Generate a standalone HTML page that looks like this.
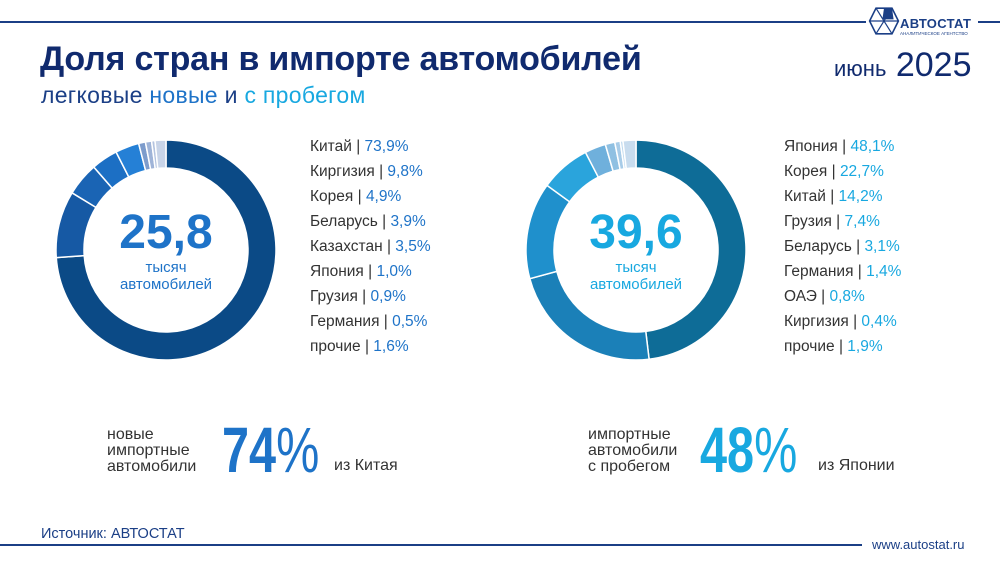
<!DOCTYPE html>
<html><head><meta charset="utf-8"><style>
body{margin:0;width:1000px;height:562px;background:#fff;position:relative;overflow:hidden;font-family:"Liberation Sans","DejaVu Sans",sans-serif}
.a{position:absolute;white-space:nowrap}
.leg{position:absolute;font-size:15.5px;color:#333;line-height:25px}
.leg b{font-weight:normal}
.l1 b{color:#1e73c8}.l2 b{color:#18a8e0}
.sm{font-size:16px;color:#333;line-height:16px}
.big{font-size:64px;line-height:64px;transform:scaleX(0.76);transform-origin:0 0}
</style></head><body>
<div class="a" style="left:0;top:21px;width:866px;height:2px;background:#1b3f86"></div>
<div class="a" style="left:978px;top:21px;width:22px;height:2px;background:#1b3f86"></div>
<svg class="a" style="left:868px;top:6px" width="32" height="30" viewBox="0 0 40 36">
<polygon points="10,2 30,2 38,18 30,34 10,34 2,18" fill="none" stroke="#1b3f86" stroke-width="2"/>
<line x1="2" y1="18" x2="38" y2="18" stroke="#1b3f86" stroke-width="1.5"/><line x1="10" y1="2" x2="30" y2="34" stroke="#1b3f86" stroke-width="1.5"/><line x1="30" y1="2" x2="10" y2="34" stroke="#1b3f86" stroke-width="1.5"/>
<polygon points="20,2 30,2 32,16 18,16" fill="#1b3f86"/></svg>
<div class="a" style="left:900px;top:16px;font-size:13px;font-weight:bold;color:#1b3f86;letter-spacing:0.3px">АВТОСТАТ</div>
<div class="a" style="left:900px;top:31px;font-size:4.5px;color:#1b3f86">АНАЛИТИЧЕСКОЕ АГЕНТСТВО</div>
<div class="a" style="left:834px;top:46px;font-size:34px;color:#102a6e"><span style="font-size:22px">июнь</span> 2025</div>
<div class="a" style="left:40px;top:40px;font-size:34px;font-weight:bold;color:#102a6e;letter-spacing:-0.2px">Доля стран в импорте автомобилей</div>
<div class="a" style="left:41px;top:82px;font-size:23px;color:#1b3f86;letter-spacing:0.3px">легковые <span style="color:#1e73c8">новые</span> и <span style="color:#18a8e0">с пробегом</span></div>
<svg class="a" style="left:0;top:0" width="1000" height="420" id="sv"></svg>
<div class="a" style="left:116px;top:205px;width:100px;text-align:center;font-size:48px;font-weight:bold;color:#1e73c8">25,8</div>
<div class="a" style="left:96px;top:259px;width:140px;text-align:center;font-size:15px;line-height:17px;color:#1e73c8">тысяч<br>автомобилей</div>
<div class="a" style="left:586px;top:205px;width:100px;text-align:center;font-size:48px;font-weight:bold;color:#18a8e0">39,6</div>
<div class="a" style="left:566px;top:259px;width:140px;text-align:center;font-size:15px;line-height:17px;color:#18a8e0">тысяч<br>автомобилей</div>
<div class="leg l1" style="left:310px;top:134px">Китай | <b>73,9%</b><br>Киргизия | <b>9,8%</b><br>Корея | <b>4,9%</b><br>Беларусь | <b>3,9%</b><br>Казахстан | <b>3,5%</b><br>Япония | <b>1,0%</b><br>Грузия | <b>0,9%</b><br>Германия | <b>0,5%</b><br>прочие | <b>1,6%</b></div>
<div class="leg l2" style="left:784px;top:134px">Япония | <b>48,1%</b><br>Корея | <b>22,7%</b><br>Китай | <b>14,2%</b><br>Грузия | <b>7,4%</b><br>Беларусь | <b>3,1%</b><br>Германия | <b>1,4%</b><br>ОАЭ | <b>0,8%</b><br>Киргизия | <b>0,4%</b><br>прочие | <b>1,9%</b></div>
<div class="a sm" style="left:107px;top:427px">новые<br>импортные<br>автомобили</div>
<div class="a big" style="left:222px;top:418px;color:#1e73c8"><b>74</b>%</div>
<div class="a sm" style="left:334px;top:458px">из Китая</div>
<div class="a sm" style="left:588px;top:427px">импортные<br>автомобили<br>с пробегом</div>
<div class="a big" style="left:700px;top:418px;color:#18a8e0"><b>48</b>%</div>
<div class="a sm" style="left:818px;top:458px">из Японии</div>
<div class="a" style="left:41px;top:526px;font-size:14.5px;color:#1b3f86">Источник: АВТОСТАТ</div>
<div class="a" style="left:0;top:544px;width:862px;height:2px;background:#1b3f86"></div>
<div class="a" style="left:872px;top:537px;font-size:13px;color:#1b3f86">www.autostat.ru</div>
<script>
function donut(cx,cy,R,r,vals,cols){var s='',a=-Math.PI/2,t=vals.reduce((x,y)=>x+y,0);
vals.forEach(function(v,i){var b=a+v/t*2*Math.PI,l=(b-a)>Math.PI?1:0;
function p(rr,ang){return (cx+rr*Math.cos(ang)).toFixed(2)+','+(cy+rr*Math.sin(ang)).toFixed(2)}
s+='<path d="M'+p(R,a)+'A'+R+','+R+' 0 '+l+' 1 '+p(R,b)+'L'+p(r,b)+'A'+r+','+r+' 0 '+l+' 0 '+p(r,a)+'Z" fill="'+cols[i]+'" stroke="#fff" stroke-width="1.5"/>';a=b;});return s;}
document.getElementById('sv').innerHTML=
donut(166,250,110,82,[73.9,9.8,4.9,3.9,3.5,1.0,0.9,0.5,1.6],['#0b4a86','#1659a4','#1a64b4','#1c6fc4','#2580d6','#7d9ccc','#9fb4d8','#b4c4e0','#c8d4e8'])+
donut(636,250,110,82,[48.1,22.7,14.2,7.4,3.1,1.4,0.8,0.4,1.9],['#0e6c97','#1b80b8','#1f90cc','#2aa4dc','#6fb0dc','#8fc0e2','#a8cce8','#bcd8ee','#c8dcee']);
</script>
</body></html>
